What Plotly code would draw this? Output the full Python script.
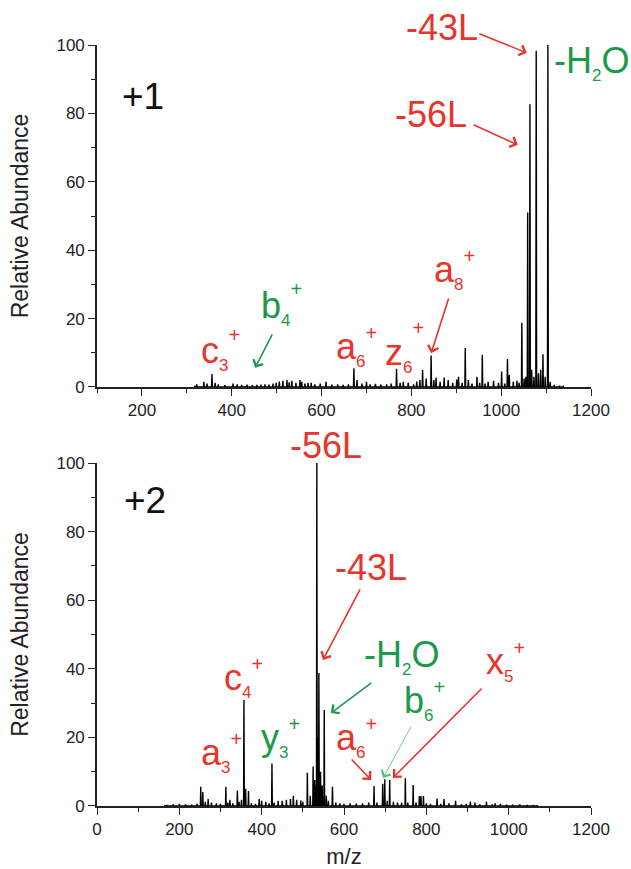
import plotly.graph_objects as go

# ---------------- data ----------------
# +1 charge state spectrum (m/z, relative abundance)
mz_top = [318, 322, 338, 345, 356, 363, 370, 385, 403, 412, 422, 434, 446, 456, 465, 474, 483, 492,
          499, 506, 514, 523, 528, 534, 543, 552, 556, 563, 570, 577, 585, 597, 610, 623, 636, 648,
          660, 672, 679, 690, 700, 708, 720, 732, 745, 755, 767, 775, 782, 793, 805, 812, 819, 825,
          833, 844, 850, 855, 864, 873, 882, 892, 901, 905, 913, 920, 927, 935, 946, 952, 958, 964,
          971, 983, 994, 1001, 1008, 1014, 1018, 1027, 1035, 1040, 1046, 1051, 1055, 1059, 1064,
          1068, 1073, 1078, 1083, 1088, 1093, 1098, 1104, 1109, 1118, 1130, 1138]
int_top = [0.3, 0.8, 1.5, 1.0, 3.8, 1.2, 0.8, 0.5, 1.0, 0.8, 0.6, 0.7, 0.5, 0.6, 0.7, 0.8, 0.7, 1.0,
           1.2, 1.6, 1.8, 2.0, 1.4, 1.8, 1.2, 2.0, 1.5, 1.0, 1.2, 1.2, 0.8, 1.0, 1.5, 0.7, 0.8, 0.6,
           0.8, 5.5, 2.0, 1.0, 1.5, 0.8, 0.9, 0.7, 0.8, 1.0, 5.3, 1.2, 1.5, 1.2, 0.8, 1.6, 2.0, 5.0,
           2.5, 9.2, 2.0, 2.8, 1.5, 2.8, 2.0, 1.2, 2.2, 3.0, 1.2, 11.4, 2.0, 1.0, 3.0, 1.2, 9.4, 1.0,
           1.5, 1.8, 1.2, 4.5, 1.0, 8.2, 3.5, 1.5, 1.8, 1.2, 18.8, 2.5, 3.0, 51.0, 82.7,
           5.0, 3.0, 98.3, 4.0, 5.0, 9.6, 3.0, 100.0, 1.5, 0.6, 0.4, 0.2]

# +2 charge state spectrum (m/z, relative abundance)
mz_bot = [165, 170, 185, 200, 215, 230, 243, 252, 257, 263, 270, 278, 290, 300, 313, 318, 323, 330,
          341, 345, 351, 357, 361, 368, 375, 385, 394, 400, 410, 418, 425, 430, 440, 450, 460, 470,
          477, 485, 495, 500, 511, 518, 525, 529, 531, 534, 537, 539, 543, 547, 552, 557, 562, 572,
          580, 590, 600, 615, 630, 645, 660, 673, 680, 694, 699, 705, 711, 720, 730, 740, 749, 755,
          768, 775, 783, 787, 793, 800, 810, 826, 835, 843, 855, 871, 885, 897, 907, 918, 930, 946,
          960, 967, 980, 995, 1010, 1027, 1045, 1060, 1070]
int_bot = [0.2, 0.3, 0.5, 0.6, 0.5, 0.4, 0.6, 5.6, 4.1, 1.2, 2.0, 1.0, 0.8, 0.6, 5.6, 1.0, 1.8, 0.8,
           4.5, 1.2, 1.8, 30.9, 5.0, 4.4, 0.8, 0.6, 2.0, 1.5, 1.2, 0.8, 12.4, 1.0, 1.5, 1.5, 1.8, 2.0,
           3.0, 1.8, 1.6, 1.2, 9.7, 3.0, 11.5, 7.6, 6.0, 100.0, 20.0, 38.8, 10.0, 6.0, 28.0, 3.0, 1.5, 5.6,
           1.0, 0.8, 0.6, 0.8, 0.7, 0.8, 1.0, 5.8, 1.0, 6.5, 7.8, 1.5, 7.6, 1.2, 1.0, 1.0, 8.1, 1.0,
           6.1, 1.0, 2.9, 2.9, 2.9, 0.8, 0.6, 2.2, 0.6, 2.0, 0.8, 1.5, 0.5, 0.6, 1.3, 1.0, 0.5, 1.2,
           0.5, 0.8, 0.6, 0.4, 0.4, 0.5, 0.3, 0.3, 0.2]

x_ticks = [0, 200, 400, 600, 800, 1000, 1200]
y_ticks = [0, 20, 40, 60, 80, 100]

# ---------------- style ----------------
FONT = "Liberation Sans, Arial, sans-serif"
RED = "#e8342b"
GREEN = "#1b9a4b"
AX = "#222222"
LBL = 36
SUBPX = 17
PLUS = 20


def stick_profile(mz, inten, half=0.9):
    xs, ys = [], []
    for m, h in zip(mz, inten):
        xs += [m - half, m, m + half]
        ys += [0, h, 0]
    return xs, ys


fig = go.Figure()
xt, yt = stick_profile(mz_top, int_top)
xb, yb = stick_profile(mz_bot, int_bot)
fig.add_trace(go.Scatter(x=xt, y=yt, mode="lines", line=dict(color="black", width=1.4),
                         xaxis="x", yaxis="y", showlegend=False, hoverinfo="skip"))
fig.add_trace(go.Scatter(x=xb, y=yb, mode="lines", line=dict(color="black", width=1.4),
                         xaxis="x2", yaxis="y2", showlegend=False, hoverinfo="skip"))

axis_common = dict(showline=True, linewidth=1.6, linecolor=AX, ticks="outside", ticklen=7,
                   tickwidth=1.4, tickcolor=AX, showgrid=False, zeroline=False, automargin=False,
                   tickfont=dict(family=FONT, size=17, color=AX))
minor_x = dict(dtick=100, tick0=0, ticks="outside", ticklen=4, tickwidth=1.2, tickcolor=AX)
minor_y = dict(dtick=10, tick0=0, ticks="outside", ticklen=4, tickwidth=1.2, tickcolor=AX)
ytitle = dict(text="Relative Abundance", font=dict(family=FONT, size=23, color=AX), standoff=21)

fig.update_layout(
    width=631, height=869,
    margin=dict(l=97, r=40, t=45, b=63),
    paper_bgcolor="white", plot_bgcolor="white",
    font=dict(family=FONT),
    xaxis=dict(domain=[0, 1], range=[100, 1200], tickvals=x_ticks[1:], anchor="y",
               minor=minor_x, **axis_common),
    yaxis=dict(domain=[0.5506, 1.0], range=[0, 100], tickvals=y_ticks, anchor="x",
               minor=minor_y, title=ytitle, **axis_common),
    xaxis2=dict(domain=[0, 1], range=[0, 1200], tickvals=x_ticks, anchor="y2", minor=minor_x,
                title=dict(text="m/z", font=dict(family=FONT, size=22, color=AX), standoff=12),
                **axis_common),
    yaxis2=dict(domain=[0, 0.4507], range=[0, 100], tickvals=y_ticks, anchor="x2",
                minor=minor_y, title=ytitle, **axis_common),
)

ann = []


def label(text, x, y, color, size=LBL, panel=1, xanchor="left", ydomain=False):
    xr = "x" if panel == 1 else "x2"
    yr = "y" if panel == 1 else "y2"
    if ydomain:
        yr = yr + " domain"
    ann.append(dict(text=text, x=x, y=y, xref=xr, yref=yr, showarrow=False, xanchor=xanchor,
                    yanchor="middle", font=dict(family=FONT, size=size, color=color)))


def sub(t):
    return f"<span style='font-size:{SUBPX}px;baseline-shift:-8px'>{t}</span>"


def ion(letter, num, x, y, color, panel=1, up=20):
    txt = f"{letter}{sub(num)}<span style='font-size:{PLUS}px;baseline-shift:{up}px'>+</span>"
    label(txt, x, y, color, panel=panel)


def arrow(x0, y0, x1, y1, color, panel=1, width=1.6, size=1.3):
    xr = "x" if panel == 1 else "x2"
    yr = "y" if panel == 1 else "y2"
    ann.append(dict(text="", x=x1, y=y1, ax=x0, ay=y0, xref=xr, yref=yr, axref=xr, ayref=yr,
                    showarrow=True, arrowhead=4, arrowsize=size, arrowwidth=width, arrowcolor=color))


# ---- top panel (+1) ----
label("+1", 202, 84.8, "#111111", size=37, xanchor="center")
label("-43L", 868, 1.0526, RED, xanchor="center", ydomain=True)
arrow(948, 103.5, 1057, 97.7, RED)
label("-56L", 844, 79.8, RED, xanchor="center")
arrow(935, 76.9, 1037, 70.8, RED)
label(f"-H{sub(2)}O", 1113, 95.0, GREEN)
ion("c", 3, 327, 11.1, RED, up=21)
ion("b", 4, 461, 24.3, GREEN, up=22)
arrow(492, 15.8, 452, 5.6, GREEN)
ion("a", 6, 628, 11.7, RED, up=19)
ion("z", 6, 737, 11.7, RED, up=30)
ion("a", 8, 846, 34.5, RED, up=19)
arrow(884, 26.3, 844, 9.9, RED)

# ---- bottom panel (+2) ----
label("+2", 116.6, 89.2, "#111111", size=37, panel=2, xanchor="center")
label("-56L", 556, 1.0525, RED, panel=2, xanchor="center", ydomain=True)
label("-43L", 666, 69.4, RED, panel=2, xanchor="center")
arrow(641, 63.6, 549, 42.6, RED, panel=2)
label(f"-H{sub(2)}O", 643, 43.7, GREEN, panel=2)
arrow(670, 36.2, 568, 27.1, GREEN, panel=2)
ion("b", 6, 740, 30.9, GREEN, panel=2, up=19)
arrow(765, 23.6, 695, 8.2, "#4cc073", panel=2, width=0.8, size=2.4)
ion("x", 5, 940, 42.0, RED, panel=2, up=19)
arrow(938, 34.7, 719, 8.2, RED, panel=2)
ion("a", 6, 575, 20.1, RED, panel=2, up=19)
arrow(615, 14.0, 666, 7.6, RED, panel=2)
ion("c", 4, 303, 37.6, RED, panel=2, up=19)
ion("a", 3, 247, 15.7, RED, panel=2, up=19)
ion("y", 3, 393, 20.1, GREEN, panel=2, up=19)

fig.update_layout(annotations=ann)
fig.write_html("out.html")
